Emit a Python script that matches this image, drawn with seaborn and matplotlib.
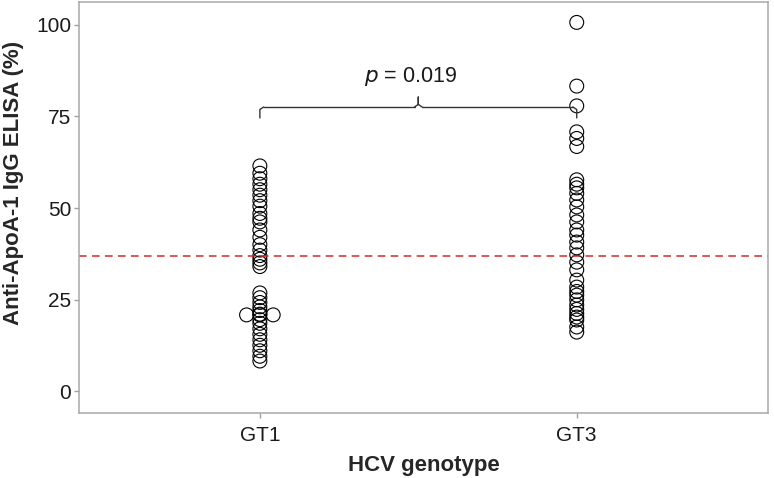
import numpy as np
import pandas as pd
import matplotlib
matplotlib.use("Agg")
import matplotlib.pyplot as plt
import seaborn as sns

sns.set_style("white")
plt.rcParams['font.family'] = ['Liberation Sans', 'DejaVu Sans']

# data
genotypes = ["GT1", "GT3"]
gt1_values = [61.5, 59.5, 58, 56.5, 55, 53.5, 52, 50.5, 48.5, 47.2, 46.2, 44, 42, 40,
              38.5, 37, 36, 35, 34, 26.8, 25.5, 24.2, 23, 22, 21, 20.8, 20.8, 20.8,
              19.5, 18.5, 17, 15.5, 14, 12.5, 11, 9.5, 8.2]
gt3_values = [100.7, 83.3, 77.9, 70.8, 69, 66.8, 57.7, 56.5, 55.5, 54, 52.2, 50.3,
              48.1, 46.2, 44, 42.6, 40.7, 39.1, 37.2, 35.2, 33.1, 30.3, 28.4, 27.2,
              26.2, 24.9, 23.5, 22.3, 21.2, 20.2, 19.4, 17.5, 16.1]
cutoff = 37.0
p_text = "0.019"

rows = []
for i, (g, vals) in enumerate(zip(genotypes, [gt1_values, gt3_values])):
    seen = {}
    for v in vals:
        k = seen.get(v, 0)
        seen[v] = k + 1
        # spread exact ties sideways like a dot plot
        off = 0 if k == 0 else (-1) ** k * ((k + 1) // 2) * 0.042
        rows.append({"genotype": g, "pos": i + off, "value": v})
df = pd.DataFrame(rows)

fig = plt.figure(figsize=(7.74, 4.78), dpi=100)
ax = fig.add_axes([0.102, 0.136, 0.890, 0.860])

sns.scatterplot(data=df, x="pos", y="value", ax=ax, s=100, marker="o",
                facecolors="none", edgecolor="black", linewidth=0.8, legend=False)

ax.axhline(cutoff, color="#d42a2a", linestyle=(0, (5, 3.5)), linewidth=1.1)

# bracket with p-value
lc = "#333333"
ax.plot([0, 0, 0.012], [74.6, 76.9, 77.6], color=lc, lw=1)
ax.plot([0.012, 0.488], [77.6, 77.6], color=lc, lw=1)
ax.plot([0.488, 0.5, 0.5, 0.5, 0.512], [77.6, 78.3, 80.3, 78.3, 77.6], color=lc, lw=1)
ax.plot([0.512, 0.988], [77.6, 77.6], color=lc, lw=1)
ax.plot([0.988, 1, 1], [77.6, 76.9, 74.6], color=lc, lw=1)
ax.text(0.475, 85.8, r"$\it{p}$" + " = " + p_text, ha="center", va="center",
        fontsize=15.5, color="#1a1a1a")

ax.set_xlim(-0.571, 1.603)
ax.set_ylim(-6.0, 106.3)
ax.set_xticks([0, 1])
ax.set_xticklabels(genotypes)
ax.set_yticks([0, 25, 50, 75, 100])
ax.tick_params(axis="both", direction="out", length=3.5, width=1, color="#a0a0a0",
               labelsize=15, labelcolor="#1a1a1a", pad=2, bottom=True, left=True)
ax.tick_params(axis="x", pad=6)
for sp in ax.spines.values():
    sp.set_color("#a8a8a8")
    sp.set_linewidth(1.1)

ax.set_xlabel("HCV genotype", fontsize=16, fontweight="bold", labelpad=7)
ax.set_ylabel("Anti-ApoA-1 IgG ELISA (%)", fontsize=16, fontweight="bold")
ax.yaxis.set_label_coords(-0.08, 0.56)

fig.savefig("out.png", dpi=100)
